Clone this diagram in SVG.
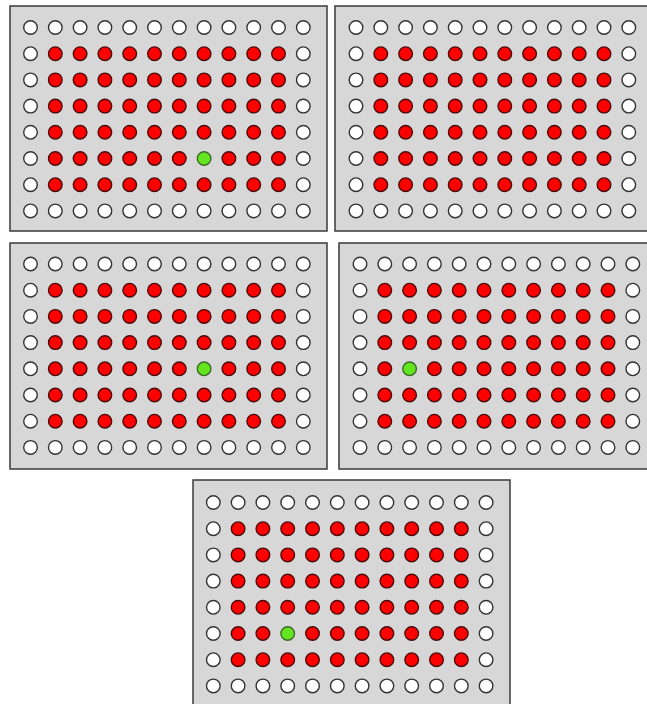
<svg xmlns="http://www.w3.org/2000/svg" xmlns:xlink="http://www.w3.org/1999/xlink" width="647" height="704" viewBox="0 0 647 704">
<style>
.plate{fill:#d7d7d7;stroke:#3a3a3a;stroke-width:1.5}
.w{fill:#ffffff;stroke:#333333;stroke-width:1.4}
.r{fill:#ff0000;stroke:#4a0a0a;stroke-width:1.4}
.g{fill:#62e41e;stroke:#3d6a2a;stroke-width:1.4}
</style>
<defs>
<circle id="cw" r="6.8" class="w"/>
<circle id="cr" r="6.8" class="r"/>
<circle id="cg" r="6.8" class="g"/>
<g id="wrow">
<use href="#cw" x="0"/><use href="#cw" x="24.8"/><use href="#cw" x="49.6"/><use href="#cw" x="74.4"/><use href="#cw" x="99.2"/><use href="#cw" x="124"/><use href="#cw" x="148.8"/><use href="#cw" x="173.6"/><use href="#cw" x="198.4"/><use href="#cw" x="223.2"/><use href="#cw" x="248"/><use href="#cw" x="272.8"/>
</g>
<g id="rrow">
<use href="#cw" x="0"/><use href="#cr" x="24.8"/><use href="#cr" x="49.6"/><use href="#cr" x="74.4"/><use href="#cr" x="99.2"/><use href="#cr" x="124"/><use href="#cr" x="148.8"/><use href="#cr" x="173.6"/><use href="#cr" x="198.4"/><use href="#cr" x="223.2"/><use href="#cr" x="248"/><use href="#cw" x="272.8"/>
</g>
<g id="grow7">
<use href="#cw" x="0"/><use href="#cr" x="24.8"/><use href="#cr" x="49.6"/><use href="#cr" x="74.4"/><use href="#cr" x="99.2"/><use href="#cr" x="124"/><use href="#cr" x="148.8"/><use href="#cg" x="173.6"/><use href="#cr" x="198.4"/><use href="#cr" x="223.2"/><use href="#cr" x="248"/><use href="#cw" x="272.8"/>
</g>
<g id="grow2">
<use href="#cw" x="0"/><use href="#cr" x="24.8"/><use href="#cg" x="49.6"/><use href="#cr" x="74.4"/><use href="#cr" x="99.2"/><use href="#cr" x="124"/><use href="#cr" x="148.8"/><use href="#cr" x="173.6"/><use href="#cr" x="198.4"/><use href="#cr" x="223.2"/><use href="#cr" x="248"/><use href="#cw" x="272.8"/>
</g>
<g id="grow3">
<use href="#cw" x="0"/><use href="#cr" x="24.8"/><use href="#cr" x="49.6"/><use href="#cg" x="74.4"/><use href="#cr" x="99.2"/><use href="#cr" x="124"/><use href="#cr" x="148.8"/><use href="#cr" x="173.6"/><use href="#cr" x="198.4"/><use href="#cr" x="223.2"/><use href="#cr" x="248"/><use href="#cw" x="272.8"/>
</g>
</defs>

<g id="plate1">
<rect class="plate" x="10" y="6" width="317" height="225"/>
<g transform="translate(30.5,27.5)">
<use href="#wrow" y="0"/><use href="#rrow" y="26.2"/><use href="#rrow" y="52.4"/><use href="#rrow" y="78.6"/><use href="#rrow" y="104.8"/><use href="#grow7" y="131"/><use href="#rrow" y="157.2"/><use href="#wrow" y="183.4"/>
</g>
</g>

<g id="plate2">
<rect class="plate" x="335" y="6" width="317" height="225"/>
<g transform="translate(356,27.5)">
<use href="#wrow" y="0"/><use href="#rrow" y="26.2"/><use href="#rrow" y="52.4"/><use href="#rrow" y="78.6"/><use href="#rrow" y="104.8"/><use href="#rrow" y="131"/><use href="#rrow" y="157.2"/><use href="#wrow" y="183.4"/>
</g>
</g>

<g id="plate3">
<rect class="plate" x="10" y="243" width="317" height="226"/>
<g transform="translate(30.5,264)">
<use href="#wrow" y="0"/><use href="#rrow" y="26.2"/><use href="#rrow" y="52.4"/><use href="#rrow" y="78.6"/><use href="#grow7" y="104.8"/><use href="#rrow" y="131"/><use href="#rrow" y="157.2"/><use href="#wrow" y="183.4"/>
</g>
</g>

<g id="plate4">
<rect class="plate" x="339" y="243" width="317" height="226"/>
<g transform="translate(360,264)">
<use href="#wrow" y="0"/><use href="#rrow" y="26.2"/><use href="#rrow" y="52.4"/><use href="#rrow" y="78.6"/><use href="#grow2" y="104.8"/><use href="#rrow" y="131"/><use href="#rrow" y="157.2"/><use href="#wrow" y="183.4"/>
</g>
</g>

<g id="plate5">
<rect class="plate" x="193" y="480" width="317" height="226"/>
<g transform="translate(213.3,502.5)">
<use href="#wrow" y="0"/><use href="#rrow" y="26.2"/><use href="#rrow" y="52.4"/><use href="#rrow" y="78.6"/><use href="#rrow" y="104.8"/><use href="#grow3" y="131"/><use href="#rrow" y="157.2"/><use href="#wrow" y="183.4"/>
</g>
</g>

<g id="connectors"/>
</svg>
